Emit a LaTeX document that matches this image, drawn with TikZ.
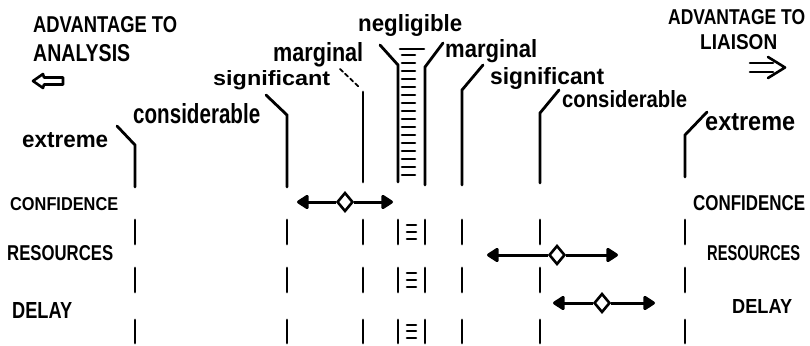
\documentclass[tikz,border=0pt]{standalone}
\usepackage{fontspec}
\setmainfont{Liberation Sans}
\usetikzlibrary{arrows.meta,shapes.geometric}
\newcommand\fitbox[3]{\resizebox{#1pt}{#2pt}{\bfseries #3}}
\begin{document}
\begin{tikzpicture}[x=1pt,y=-1pt,
  ink/.style={line width=2.8pt,line cap=round},
  thinink/.style={line width=1.8pt,line cap=round},
  hatch/.style={line width=2.6pt,line cap=round},
  lbl/.style={inner sep=0pt,anchor=base west},
  arr/.style={line width=3pt,-{Triangle[length=13pt,width=16pt,round]}},
  dia/.style={diamond,draw,line width=2.6pt,fill=white,minimum width=16pt,minimum height=19pt,inner sep=0pt}]
\useasboundingbox (0,0) rectangle (810,345);
% headings
\node[lbl] (advL) at (33,33) {\fitbox{144}{16}{ADVANTAGE TO}};
\node[lbl] (anaL) at (33,62) {\fitbox{97}{17}{ANALYSIS}};
\node[lbl] (advR) at (668,25) {\fitbox{137}{15}{ADVANTAGE TO}};
\node[lbl] (liaR) at (700,50) {\fitbox{77}{15}{LIAISON}};
% direction arrows
\draw[line width=2.6pt,line join=round] (33,81) -- (43,74) -- (44,77.5) -- (63,77.5) -- (63,84.5) -- (44,84.5) -- (43,88) -- cycle;
\draw[line width=2.6pt,line cap=round] (750,63) -- (773,63) (750,72) -- (773,72);
\draw[line width=2.6pt,line cap=round,line join=round] (768,57) -- (785,67.5) -- (768,78);
% scale labels
\node[lbl] (extL) at (22,147) {\fitbox{86}{15}{extreme}};
\node[lbl] (conL) at (133,123) {\fitbox{127}{20}{considerable}};
\node[lbl] (sigL) at (213,85) {\fitbox{117}{15}{significant}};
\node[lbl] (marL) at (273,62) {\fitbox{90}{19}{marginal}};
\node[lbl] (neg) at (358,32) {\fitbox{104}{17}{negligible}};
\node[lbl] (marR) at (445,58) {\fitbox{92}{18}{marginal}};
\node[lbl] (sigR) at (490,84) {\fitbox{114}{17}{significant}};
\node[lbl] (conR) at (562,107) {\fitbox{125}{17}{considerable}};
\node[lbl] (extR) at (705,130) {\fitbox{90}{17}{extreme}};
% row labels
\node[lbl] (confL) at (10,210) {\fitbox{108}{13}{CONFIDENCE}};
\node[lbl] (resL) at (7,260) {\fitbox{106}{15}{RESOURCES}};
\node[lbl] (delL) at (12,318) {\fitbox{60}{16}{DELAY}};
\node[lbl] (confR) at (693,210) {\fitbox{112}{15}{CONFIDENCE}};
\node[lbl] (resR) at (707,260) {\fitbox{93}{15}{RESOURCES}};
\node[lbl] (delR) at (732,313) {\fitbox{60}{14}{DELAY}};
% boundary lines, top parts
\foreach \x/\sx/\sy/\ty/\by in {135/117/126/145/187, 287/266/95/115/187, 398/380/45/65/182, 425/443/43/67/185, 462/483/65/90/185, 540/559/90/113/183, 685/707/112/135/177}
  \draw[ink] (\sx,\sy) -- (\x,\ty) -- (\x,\by);
\draw[thinink,dash pattern=on 4pt off 3pt] (340,69) -- (360,88);
\draw[ink] (363,92) -- (363,182);
% boundary lines, lower parts
\foreach \x in {135,287,363,398,425,462,540,685}
  \draw[ink] (\x,220) -- (\x,244) (\x,268) -- (\x,292) (\x,320) -- (\x,343);
% hatching of negligible band
\draw[hatch] (400,49) -- (424,49);
\foreach \y in {55,63,...,175}
  \draw[hatch] (402,\y) -- (415,\y);
\foreach \y in {225,232,239,273,280,287,325,331,338}
  \draw[hatch] (407,\y) -- (416,\y);
% range arrows
\node[dia] (d1) at (345,202) {};
\coordinate (l1) at (297,202);
\coordinate (r1) at (393,202);
\draw[arr] (d1) -- (l1);
\draw[arr] (d1) -- (r1);
\node[dia] (d2) at (557,255) {};
\coordinate (l2) at (487,255);
\coordinate (r2) at (618,255);
\draw[arr] (d2) -- (l2);
\draw[arr] (d2) -- (r2);
\node[dia] (d3) at (602,303) {};
\coordinate (l3) at (553,303);
\coordinate (r3) at (655,303);
\draw[arr] (d3) -- (l3);
\draw[arr] (d3) -- (r3);
\end{tikzpicture}
\end{document}
